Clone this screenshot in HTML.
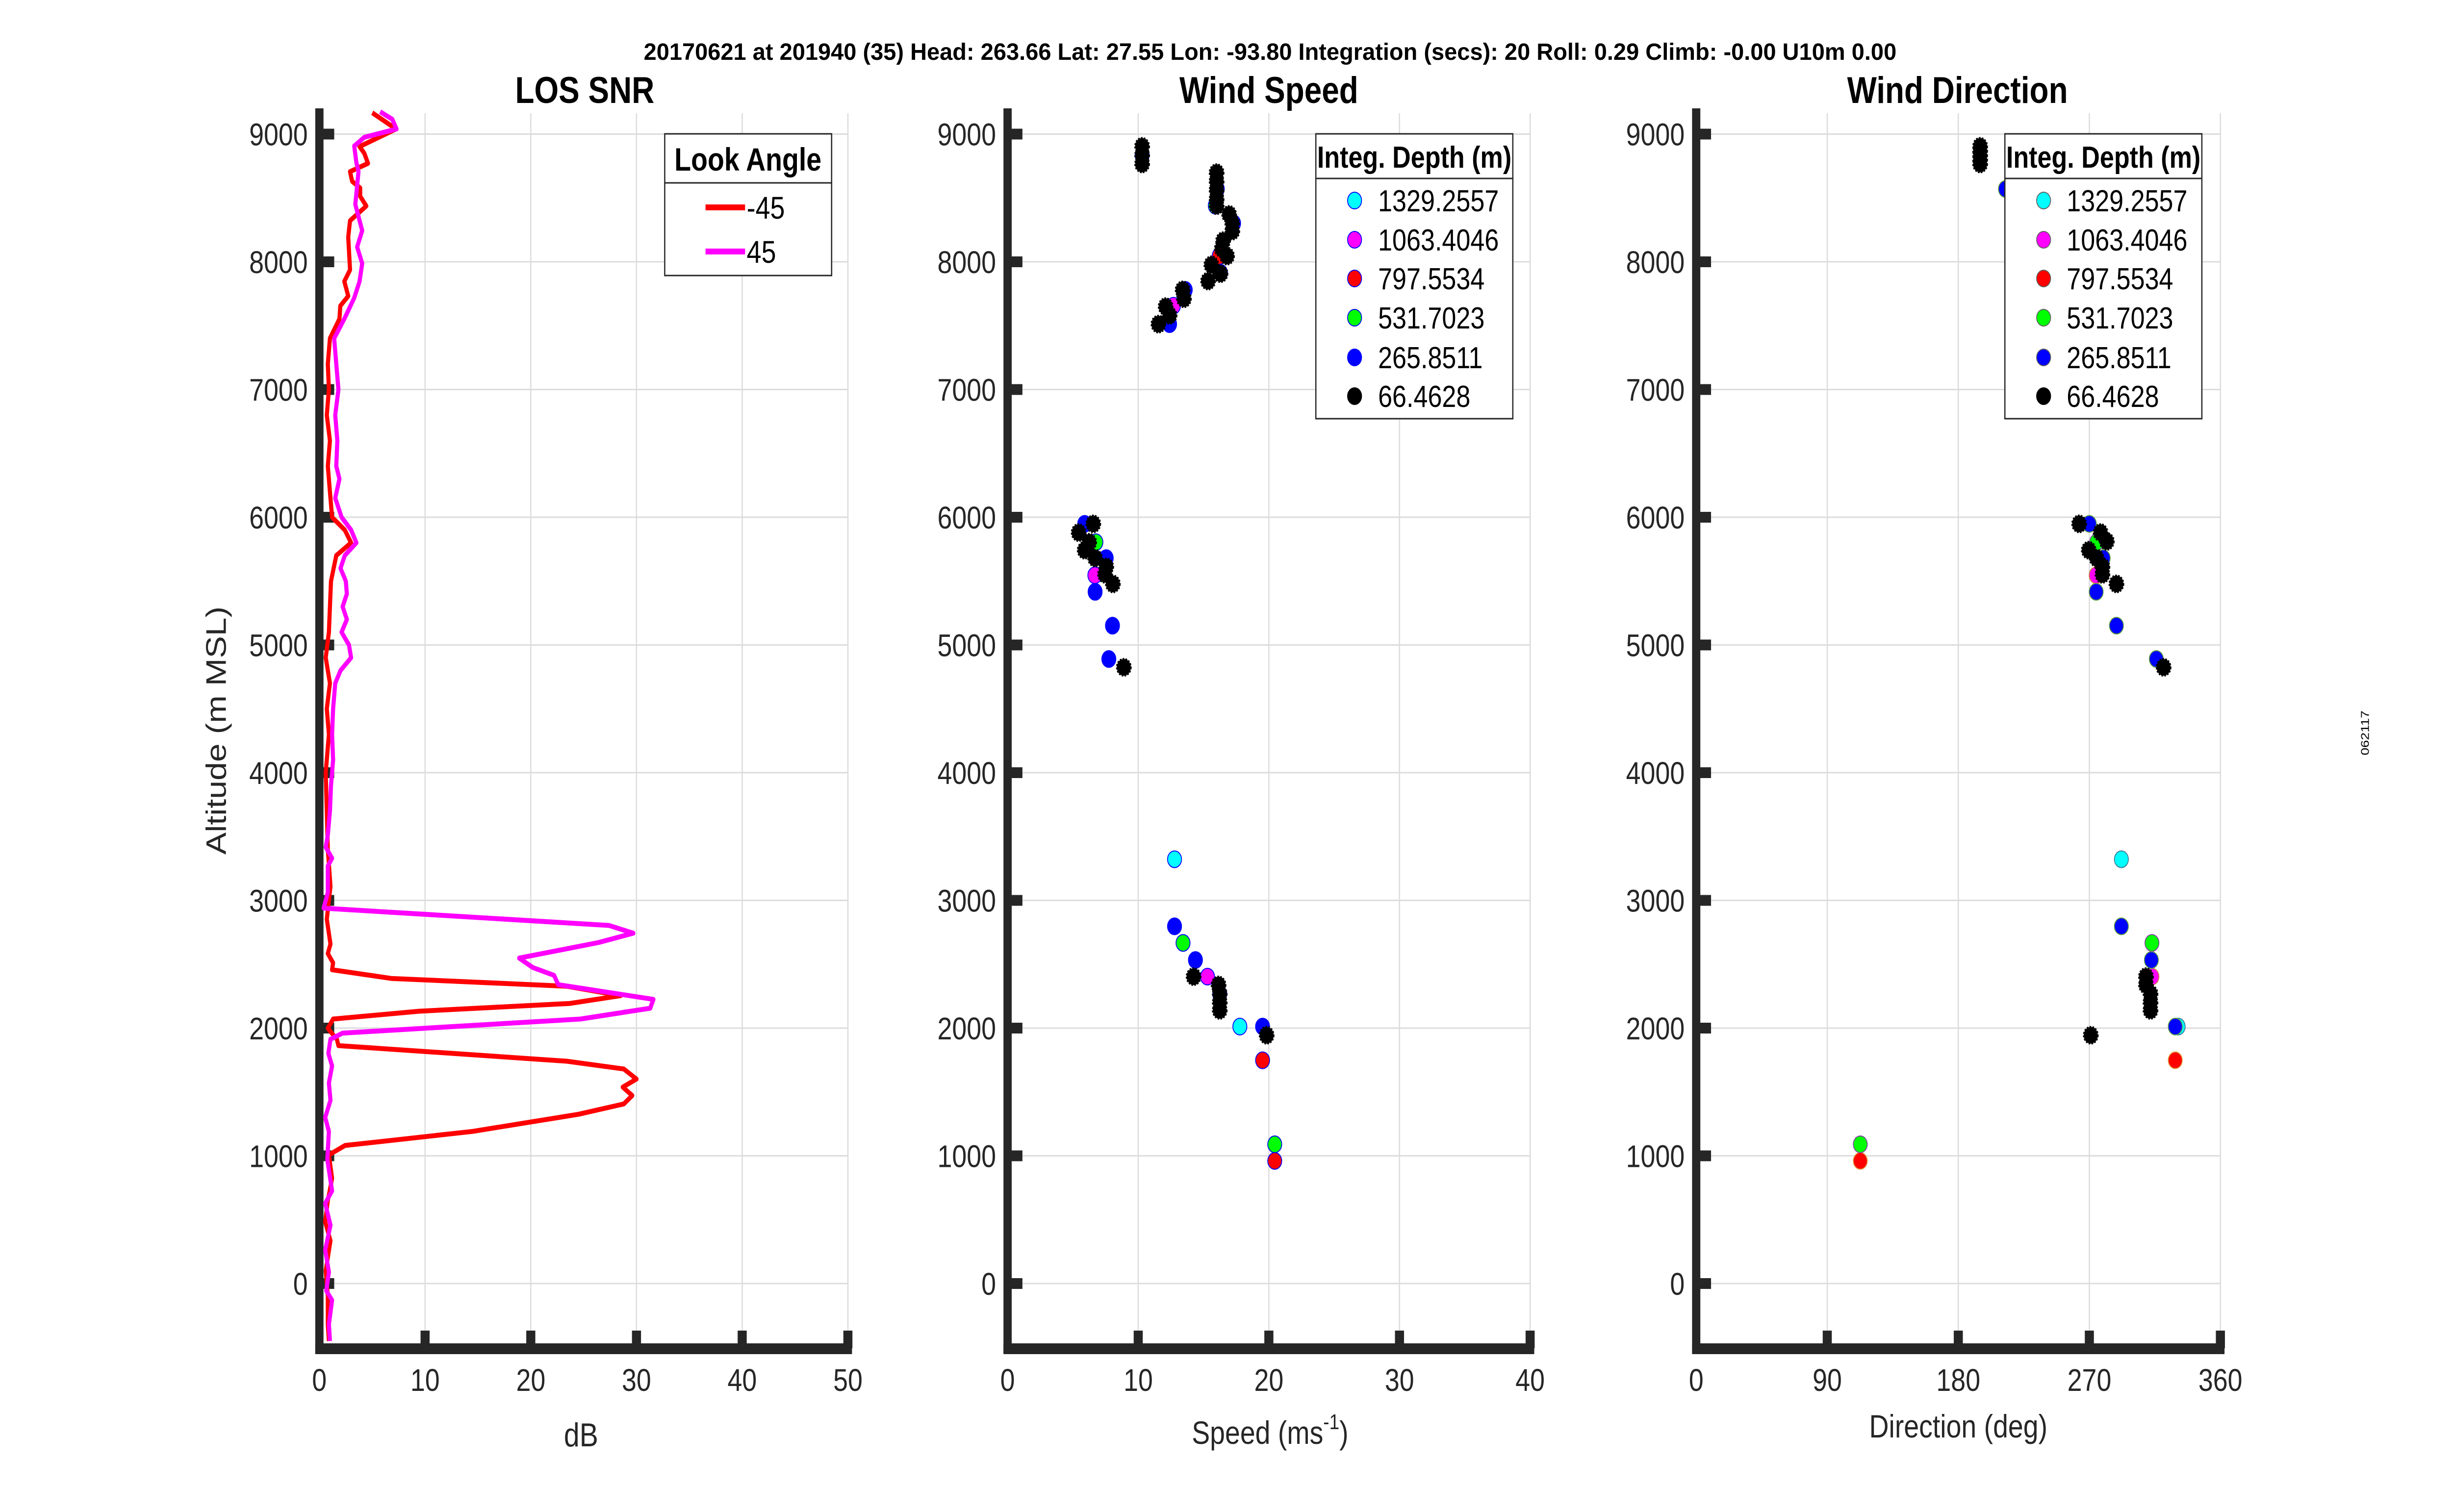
<!DOCTYPE html>
<html><head><meta charset="utf-8"><style>
html,body{margin:0;padding:0;background:#fff;overflow:hidden;width:100vw;height:100vh;}
svg{display:block;width:100vw;height:100vh;font-family:"Liberation Sans",Arial,sans-serif;}
</style></head><body>
<svg id="fig" viewBox="0 0 5950 3084" preserveAspectRatio="none" xmlns="http://www.w3.org/2000/svg">
<rect x="0" y="0" width="5950" height="3084" fill="#fff"/>
<text x="3082" y="122" text-anchor="middle" font-size="48" font-weight="bold" textLength="3040" lengthAdjust="spacingAndGlyphs">20170621 at 201940 (35)  Head: 263.66  Lat: 27.55  Lon: -93.80  Integration (secs): 20  Roll: 0.29  Climb: -0.00  U10m 0.00</text>
<text transform="translate(5748,1495) rotate(-90)" text-anchor="middle" font-size="28">062117</text>
<g id="p1"></g>
<g id="p2"></g>
<g id="p3"></g>
</svg>
<script>
// ---------- data ----------
const yTicks = [0,1000,2000,3000,4000,5000,6000,7000,8000,9000];
const snrTicks = [0,10,20,30,40,50];
const spdTicks = [0,10,20,30,40];
const dirTicks = [0,90,180,270,360];

const snrAltPos45 = [9175,9116,9040,8975,8906,8777,8706,8450,8244,8116,7987,7847,7718,7553,7400,7200,7000,6800,6600,6400,6300,6150,6000,5900,5800,5700,5600,5500,5400,5300,5200,5100,5000,4900,4800,4700,4500,4300,4100,3900,3700,3513,3416,3330,3269,3061,2939,2804,2743,2670,2548,2474,2413,2340,2225,2156,2071,1961,1912,1802,1704,1570,1435,1300,1191,971,726,628,457,262,90,-56,-130,-320,-450];
const snrDbPos45 = [5.75,6.9,7.3,4.25,3.3,3.5,3.7,3.4,4.05,3.57,4.05,3.8,3.3,2.36,1.4,1.6,1.8,1.5,1.7,1.6,1.9,1.5,2.1,3.0,3.5,2.4,2.0,2.5,2.6,2.2,2.6,2.1,2.8,3.0,2.0,1.5,1.3,1.2,1.3,1.1,1.0,0.8,0.6,1.2,0.8,0.8,0.4,27.4,29.7,26.4,18.9,20.2,22.2,22.6,31.6,31.3,24.7,2.2,1.05,0.85,1.2,0.9,1.05,0.55,0.9,0.75,1.2,0.55,1.05,0.55,0.9,0.65,1.2,0.9,1.0];
const snrAltNeg45 = [9167,9040,8902,8850,8771,8706,8630,8578,8513,8437,8322,8193,7937,7847,7732,7655,7553,7400,7200,7000,6800,6600,6400,6200,6000,5900,5800,5700,5500,5300,5100,4900,4700,4500,4300,4000,3700,3400,3110,2853,2658,2584,2511,2457,2389,2328,2254,2193,2132,2071,1998,1912,1863,1741,1680,1601,1538,1472,1406,1325,1191,1081,1007,824,650,482,335,100,-100,-320,-450];
const snrDbNeg45 = [5.0,7.25,3.8,4.25,4.6,2.9,3.1,3.86,3.86,4.44,2.9,2.73,2.9,2.36,2.73,1.98,1.9,1.0,0.8,0.9,0.7,1.0,0.8,1.0,1.2,2.4,3.0,1.6,1.1,1.0,0.9,0.6,1.0,0.7,0.9,0.6,0.7,0.8,1.05,0.7,1.05,0.8,1.3,1.2,6.8,23.4,28.5,23.7,9.4,1.3,0.8,1.66,1.8,23.4,28.8,30.0,28.7,29.6,28.8,24.5,14.5,2.43,0.9,1.2,0.8,0.55,1.05,0.6,0.8,0.8,0.9];

const depthLabels = ["1329.2557","1063.4046","797.5534","531.7023","265.8511","66.4628"];

const spd1329 = [12.78,17.78];
const spdAlt1329 = [3322,2012];
const spd1063 = [12.7,6.68,15.3];
const spdAlt1063 = [7656,5546,2403];
const spd797 = [16.2,19.52,20.45];
const spdAlt797 = [8045,1748,960];
const spd531 = [15.9,6.76,13.43,20.45];
const spdAlt531 = [8440,5804,2667,1090];
const spd265 = [10.3,16.05,17.3,16.3,13.6,12.4,5.9,7.55,6.7,8.03,7.75,12.78,14.38,16.24,19.52];
const spdAlt265 = [8835,8570,8302,7914,7780,7512,5948,5680,5416,5151,4890,2797,2533,2269,2012];
const spd66 = [10.3,10.3,10.3,16.0,16.0,16.0,16.0,16.0,16.96,17.2,17.2,16.5,16.4,16.8,16.3,15.6,15.35,13.4,13.5,12.1,12.4,11.55,6.56,5.44,6.25,5.9,6.7,7.55,7.46,8.06,8.9,14.24,16.15,16.24,16.24,16.24,19.83];
const spdAlt66 = [8904,8835,8766,8698,8629,8560,8491,8440,8371,8302,8240,8165,8103,8045,7907,7976,7849,7780,7711,7649,7581,7512,5948,5880,5804,5742,5680,5612,5553,5478,4825,2403,2338,2269,2201,2139,1944];

const dir1329 = [292,331];
const dirAlt1329 = [3322,2012];
const dir1063 = [274.7,313];
const dirAlt1063 = [5546,2403];
const dir797 = [329,112.7];
const dirAlt797 = [1748,960];
const dir531 = [275,313,112.7];
const dirAlt531 = [5804,2667,1090];
const dir265 = [212.4,270,279.5,274.7,288.6,316,292,312.6,329];
const dirAlt265 = [8570,5948,5680,5416,5151,4890,2797,2533,2012];
const dir66 = [195,195,195,195,195,263,277.7,282,269.6,275,279,279,288.6,321,308.9,308.9,312,312,312,271];
const dirAlt66 = [8904,8870,8835,8800,8766,5948,5880,5811,5742,5680,5612,5553,5478,4825,2403,2338,2269,2201,2139,1944];

// ---------- layout ----------
const NS = "http://www.w3.org/2000/svg";
const Y0 = 2618, YS = 0.2605, YTOP = 221, YBOT = 2750;
function yPix(v){ return Y0 - v*YS; }
function mk(tag, attrs, parent){
  const e = document.createElementNS(NS, tag);
  for (const k in attrs) e.setAttribute(k, attrs[k]);
  parent.appendChild(e);
  return e;
}
const SPINE = "#262626";

function axes(g, x0, pxPerUnit, xTicks, xMax, title, titleX, name){
  const xPix = v => x0 + v*pxPerUnit;
  const xEnd = xPix(xMax);
  xTicks.forEach(t => {
    if (t === 0) return;
    const l = mk("line", {x1:xPix(t), x2:xPix(t), y1:YTOP+10, y2:YBOT, stroke:"#dcdcdc", "stroke-width":3}, g);
    
    
  });
  yTicks.forEach(t => {
    const l = mk("line", {x1:x0, x2:xEnd, y1:yPix(t), y2:yPix(t), stroke:"#dcdcdc", "stroke-width":3}, g);
    
    
  });
  const ls = mk("rect", {x:x0-10, y:YTOP, width:20, height:YBOT-YTOP+10, fill:SPINE}, g);
  
  
  const bs = mk("rect", {x:x0-10, y:YBOT-10, width:xEnd-x0+20, height:22, fill:SPINE}, g);
  
  
  yTicks.forEach(t => {
    const tk = mk("rect", {x:x0, y:yPix(t)-11, width:36, height:22, fill:SPINE}, g);
    
    
    const tx = mk("text", {x:x0-28, y:yPix(t)+23, "text-anchor":"end", "font-size":64, fill:SPINE}, g);
    tx.textContent = String(t);
    
    
  });
  xTicks.forEach(t => {
    if (t !== 0) {
      const tk = mk("rect", {x:xPix(t)-11, y:YBOT-36, width:22, height:36, fill:SPINE}, g);
      
      
    }
    const tx = mk("text", {x:xPix(t), y:2837, "text-anchor":"middle", "font-size":64, fill:SPINE}, g);
    tx.textContent = String(t);
    
    
  });
  const tt = mk("text", {x:titleX, y:210, "text-anchor":"middle", "font-size":76, "font-weight":"bold", fill:"#000"}, g);
  tt.textContent = title;
  
  
  return xPix;
}

// ---------- panel 1 ----------
const g1 = document.getElementById("p1");
const xs1 = axes(g1, 775, 25.65, snrTicks, 50, "LOS SNR", 1419, "snr");
{
  const xl = mk("text", {x:1410, y:2950, "text-anchor":"middle", "font-size":68, fill:SPINE}, g1);
  xl.textContent = "dB";
  
  
  const yl = mk("text", {transform:"translate(548,1490) rotate(-90)", "text-anchor":"middle", "font-size":68, fill:SPINE}, g1);
  yl.textContent = "Altitude (m MSL)";
  
  
}
function snrLine(alts, dbs, color, nm){
  const pts = alts.map((a,i) => xs1(dbs[i]).toFixed(1) + "," + yPix(a).toFixed(1)).join(" ");
  const p = mk("polyline", {points:pts, fill:"none", stroke:color, "stroke-width":10, "stroke-linejoin":"round"}, g1);
  
  
}
snrLine(snrAltNeg45, snrDbNeg45, "#ff0000", "snr-line-minus45");
snrLine(snrAltPos45, snrDbPos45, "#ff00ff", "snr-line-plus45");
{
  const lg = mk("g", {}, g1);
  
  
  mk("rect", {x:1613, y:273, width:405, height:289, fill:"#fff", stroke:"#262626", "stroke-width":3}, lg);
  mk("line", {x1:1613, x2:2018, y1:373, y2:373, stroke:"#262626", "stroke-width":3}, lg);
  const t = mk("text", {x:1815, y:348, "text-anchor":"middle", "font-size":66, "font-weight":"bold"}, lg);
  t.textContent = "Look Angle";
  const labs = ["-45","45"], cols = ["#ff0000","#ff00ff"], ys = [423,513];
  labs.forEach((s,i) => {
    const ln = mk("line", {x1:1712, x2:1808, y1:ys[i], y2:ys[i], stroke:cols[i], "stroke-width":12}, lg);
    
    
    const tx = mk("text", {x:1812, y:ys[i]+23, "font-size":64}, lg);
    tx.textContent = s;
    
    
  });
}

// ---------- scatter helpers ----------
const seriesColors = ["#00ffff","#ff00ff","#ff0000","#00ff00","#0000ff","#000000"];
function scatter(g, xPix, xs, alts, ci, edge, nm){
  xs.forEach((v,i) => {
    const c = mk("circle", {cx:xPix(v), cy:yPix(alts[i]), r:17, fill:seriesColors[ci], stroke: ci===5 ? "#000" : edge, "stroke-width": ci===5 ? 4 : 2, "stroke-dasharray": ci===5 ? "4 3" : "none"}, g);
    
    
  });
}
function depthLegend(g, bx, mx, tx, nm, edge){
  const lg = mk("g", {}, g);
  
  
  mk("rect", {x:bx, y:273, width:478, height:581, fill:"#fff", stroke:"#262626", "stroke-width":3}, lg);
  mk("line", {x1:bx, x2:bx+478, y1:364, y2:364, stroke:"#262626", "stroke-width":3}, lg);
  const t = mk("text", {x:bx+239, y:342, "text-anchor":"middle", "font-size":62, "font-weight":"bold"}, lg);
  t.textContent = "Integ. Depth (m)";
  const ys = [409,489,568,648,729,808];
  depthLabels.forEach((s,i) => {
    const c = mk("circle", {cx:mx, cy:ys[i], r:17, fill:seriesColors[i], stroke: i===5 ? "#000" : edge, "stroke-width":2}, lg);
    
    
    const tt = mk("text", {x:tx, y:ys[i]+22, "font-size":62}, lg);
    tt.textContent = s;
    
    
  });
}

// ---------- panel 2 ----------
const g2 = document.getElementById("p2");
const xs2 = axes(g2, 2445, 31.7, spdTicks, 40, "Wind Speed", 3079, "speed");
{
  const xl = mk("text", {x:3082, y:2945, "text-anchor":"middle", "font-size":66, fill:SPINE}, g2);
  
  
  xl.innerHTML = 'Speed (ms<tspan font-size="44" dy="-30">-1</tspan><tspan dy="30">)</tspan>';
}
scatter(g2, xs2, spd1329, spdAlt1329, 0, "#0000ff", "speed-point-1329");
scatter(g2, xs2, spd1063, spdAlt1063, 1, "#0000ff", "speed-point-1063");
scatter(g2, xs2, spd797, spdAlt797, 2, "#0000ff", "speed-point-797");
scatter(g2, xs2, spd531, spdAlt531, 3, "#0000ff", "speed-point-531");
scatter(g2, xs2, spd265, spdAlt265, 4, "#0000ff", "speed-point-265");
scatter(g2, xs2, spd66, spdAlt66, 5, "#000", "speed-point-66");
depthLegend(g2, 3193, 3287, 3344, "speed-legend", "#0000ff");

// ---------- panel 3 ----------
const g3 = document.getElementById("p3");
const xs3 = axes(g3, 4116, 3.5333, dirTicks, 360, "Wind Direction", 4750, "direction");
{
  const xl = mk("text", {x:4752, y:2932, "text-anchor":"middle", "font-size":66, fill:SPINE}, g3);
  xl.textContent = "Direction (deg)";
  
  
}
scatter(g3, xs3, dir1329, dirAlt1329, 0, "#3a7a9a", "direction-point-1329");
scatter(g3, xs3, dir1063, dirAlt1063, 1, "#d08040", "direction-point-1063");
scatter(g3, xs3, dir797, dirAlt797, 2, "#e0a040", "direction-point-797");
scatter(g3, xs3, dir531, dirAlt531, 3, "#8040a0", "direction-point-531");
scatter(g3, xs3, dir265, dirAlt265, 4, "#60a040", "direction-point-265");
scatter(g3, xs3, dir66, dirAlt66, 5, "#000", "direction-point-66");
depthLegend(g3, 4865, 4959, 5015, "direction-legend", "#606060");
</script>
</body></html>
